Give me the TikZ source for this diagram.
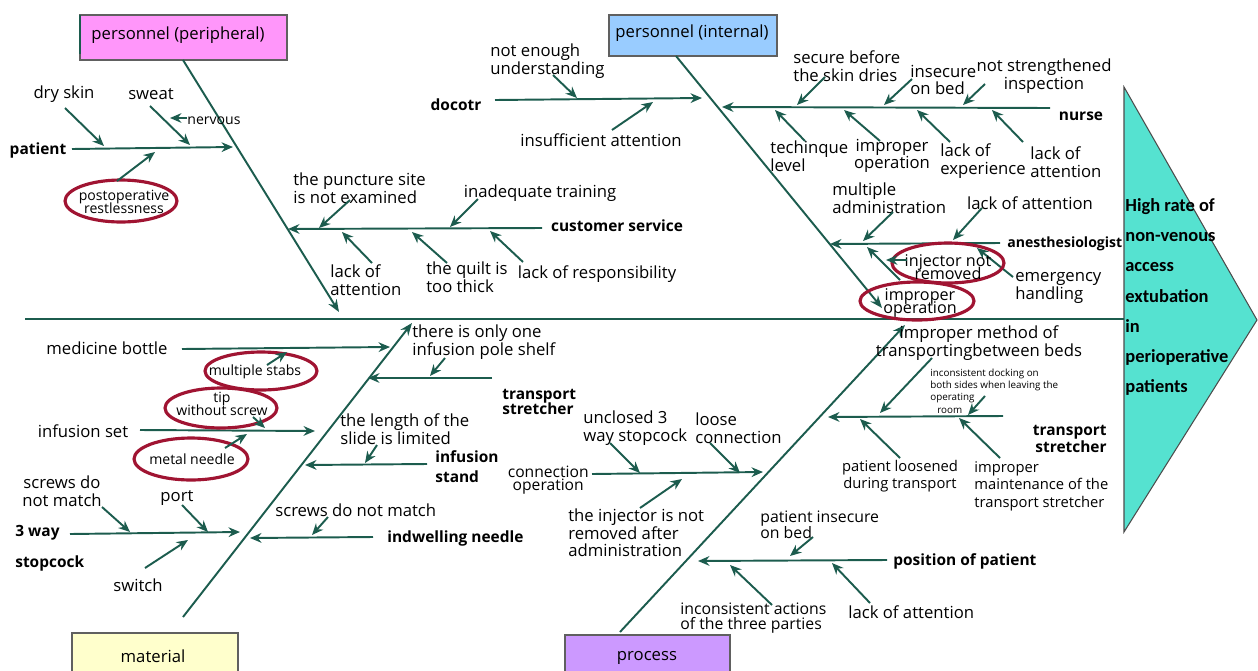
\documentclass[tikz,border=0pt]{standalone}
\usepackage{fontspec}
\setmainfont{Open Sans}
\newfontfamily\headfont{Carlito}
\usetikzlibrary{arrows.meta,calc}

\definecolor{bonegreen}{RGB}{28,92,78}
\definecolor{ringred}{RGB}{160,20,50}
\definecolor{headcyan}{RGB}{85,226,208}
\definecolor{pinkbox}{RGB}{255,150,250}
\definecolor{bluebox}{RGB}{153,204,255}
\definecolor{yellowbox}{RGB}{255,255,204}
\definecolor{violetbox}{RGB}{204,153,255}

% let lines of a label sit close when the leading is tight
\newcommand\squeeze{\lineskiplimit=-50pt\lineskip=0pt\relax}

\tikzset{
  bone/.style={draw=bonegreen,line width=1.1pt,-{Stealth[length=7pt,width=5.5pt]}},
  twig/.style={draw=bonegreen,line width=1.1pt,-{Stealth[length=6.5pt,width=5.5pt]}},
  spine/.style={draw=bonegreen,line width=1pt},
  lbl/.style={font=\fontsize{9.5}{10}\selectfont,inner sep=0pt,align=center},
  tight/.style={font=\fontsize{9.2}{7.8}\selectfont\squeeze,inner sep=0pt,align=center},
  sm/.style={font=\fontsize{8}{7.2}\selectfont\squeeze,inner sep=0pt,align=center},
  tiny/.style={font=\fontsize{5.6}{7}\selectfont,inner sep=0pt,align=left},
  hd/.style={font=\bfseries\fontsize{8.8}{10}\selectfont,inner sep=0pt,align=left},
  ring/.style={draw=ringred,line width=1.8pt},
  catbox/.style={draw=gray!75!black,line width=.8pt}
}

\begin{document}
\begin{tikzpicture}[x=0.02cm,y=-0.02cm]
\useasboundingbox (0,0) rectangle (1258,670);

% head of the fish
\filldraw[fill=headcyan,draw=gray!60!black,line width=.6pt] (1124,87) -- (1257,320) -- (1124,532) -- cycle;
\node[font=\headfont\bfseries\fontsize{10.5}{17.2}\selectfont,inner sep=0pt,align=left,anchor=west] (eff) at (1125,297)
  {High rate of\\non-venous\\access\\extubation\\in\\perioperative\\patients};

% spine
\coordinate (S0) at (25,319); \coordinate (S1) at (1124,319);
\draw[spine] (S0) -- (S1);

% category boxes
\filldraw[catbox,fill=pinkbox] (80,15) rectangle (287,60);
\draw[bonegreen,line width=1.2pt] (80,15) -- (80,54);
\node[lbl] (catPP) at (178,35) {personnel (peripheral)};
\filldraw[catbox,fill=bluebox] (609,15) rectangle (777,56);
\node[lbl] (catPI) at (692,33) {personnel (internal)};
\filldraw[catbox,fill=yellowbox] (72,633) rectangle (238,675);
\node[lbl] (catM) at (153,656) {material};
\filldraw[catbox,fill=violetbox] (565,635) rectangle (730,675);
\node[lbl] (catP) at (647,658) {process};

% main bones
\coordinate (B1s) at (183,60);  \coordinate (B1e) at (339,312);
\coordinate (B2s) at (676,56);  \coordinate (B2e) at (882,308);
\coordinate (B3s) at (183,617); \coordinate (B3e) at (412,323);
\coordinate (B4s) at (620,632); \coordinate (B4e) at (905,325);
\draw[bone] (B1s) -- (B1e);
\draw[bone] (B2s) -- (B2e);
\draw[bone] (B3s) -- (B3e);
\draw[bone] (B4s) -- (B4e);

% ---- personnel (peripheral): patient
\node[hd] (pat) at (38,150) {patient};
\coordinate (pat1) at (72,149); \coordinate (pat2) at (233,147);
\draw[twig] (pat1) -- (pat2);
\node[lbl] (dry) at (64,94) {dry skin};
\coordinate (dry1) at (65,108); \coordinate (dry2) at (104,146);
\draw[twig] (dry1) -- (dry2);
\node[lbl] (swt) at (151,94) {sweat};
\coordinate (swt1) at (150,106); \coordinate (swt2) at (190,145);
\draw[twig] (swt1) -- (swt2);
\node[sm] (nrv) at (214,121) {nervous};
\coordinate (nrv1) at (187,118); \coordinate (nrv2) at (170,118);
\draw[twig] (nrv1) -- (nrv2);
\draw[ring] (121,201) ellipse (1.12cm and 0.42cm);
\node[sm] (pst) at (124,202) {postoperative\\restlessness};
\coordinate (pst1) at (117,181); \coordinate (pst2) at (155,152);
\draw[twig] (pst1) -- (pst2);

% ---- personnel (peripheral): customer service
\node[hd] (cus) at (617,226) {customer service};
\coordinate (cus1) at (542,228); \coordinate (cus2) at (288,229);
\draw[twig] (cus1) -- (cus2);
\node[lbl,align=left,anchor=west] (pun) at (293,188) {the puncture site\\is not examined};
\coordinate (pun1) at (350,200); \coordinate (pun2) at (319,228);
\draw[twig] (pun1) -- (pun2);
\node[lbl] (trn) at (540,193) {inadequate training};
\coordinate (trn1) at (478,199); \coordinate (trn2) at (450,227);
\draw[twig] (trn1) -- (trn2);
\node[lbl,align=left,anchor=west] (lca) at (330,280) {lack of\\attention};
\coordinate (lca1) at (372,263); \coordinate (lca2) at (342,232);
\draw[twig] (lca1) -- (lca2);
\node[lbl,align=left,anchor=west] (qlt) at (426,277) {the quilt is\\too thick};
\coordinate (qlt1) at (447,263); \coordinate (qlt2) at (412,232);
\draw[twig] (qlt1) -- (qlt2);
\node[lbl] (rsp) at (597,274) {lack of responsibility};
\coordinate (rsp1) at (523,262); \coordinate (rsp2) at (490,231);
\draw[twig] (rsp1) -- (rsp2);

% ---- personnel (internal): doctor
\node[hd] (doc) at (456,105) {docotr};
\coordinate (doc1) at (495,100); \coordinate (doc2) at (702,98);
\draw[twig] (doc1) -- (doc2);
\node[lbl,align=left,anchor=west] (und) at (490,61) {not enough\\understanding};
\coordinate (und1) at (553,75); \coordinate (und2) at (577,98);
\draw[twig] (und1) -- (und2);
\node[lbl] (ins) at (601,140) {insufficient attention};
\coordinate (ins1) at (612,130); \coordinate (ins2) at (653,102);
\draw[twig] (ins1) -- (ins2);

% ---- personnel (internal): nurse
\node[hd] (nur) at (1081,116) {nurse};
\coordinate (nur1) at (1050,108); \coordinate (nur2) at (722,107);
\draw[twig] (nur1) -- (nur2);
\node[lbl,align=left,anchor=west] (sec) at (793,66) {secure before\\the skin dries};
\coordinate (sec1) at (825,77); \coordinate (sec2) at (797,105);
\draw[twig] (sec1) -- (sec2);
\node[lbl,align=left,anchor=west] (isb) at (910,80) {insecure\\on bed};
\coordinate (isb1) at (912,79); \coordinate (isb2) at (884,105);
\draw[twig] (isb1) -- (isb2);
\node[lbl] (nsi) at (1044,76) {not strengthened\\inspection};
\coordinate (nsi1) at (985,84); \coordinate (nsi2) at (963,105);
\draw[twig] (nsi1) -- (nsi2);
\node[lbl,align=left,anchor=west] (tec) at (770,156) {techinque\\level};
\coordinate (tec1) at (805,141); \coordinate (tec2) at (775,110);
\draw[twig] (tec1) -- (tec2);
\node[lbl] (iop) at (892,156) {improper\\operation};
\coordinate (iop1) at (880,141); \coordinate (iop2) at (844,110);
\draw[twig] (iop1) -- (iop2);
\node[lbl,align=left,anchor=west] (lex) at (940,161) {lack of\\experience};
\coordinate (lex1) at (950,142); \coordinate (lex2) at (917,110);
\draw[twig] (lex1) -- (lex2);
\node[lbl,align=left,anchor=west] (lat) at (1030,162) {lack of\\attention};
\coordinate (lat1) at (1023,142); \coordinate (lat2) at (992,110);
\draw[twig] (lat1) -- (lat2);

% ---- personnel (internal): anesthesiologist
\node[hd,font=\bfseries\fontsize{8}{10}\selectfont,anchor=west] (ane) at (1007,244) {anesthesiologist};
\coordinate (ane1) at (1000,243); \coordinate (ane2) at (830,244);
\draw[twig] (ane1) -- (ane2);
\node[lbl,align=left,anchor=west] (mad) at (832,198) {multiple\\administration};
\coordinate (mad1) at (893,212); \coordinate (mad2) at (863,241);
\draw[twig] (mad1) -- (mad2);
\node[lbl] (laa) at (1030,203) {lack of attention};
\coordinate (laa1) at (982,208); \coordinate (laa2) at (953,240);
\draw[twig] (laa1) -- (laa2);
\node[lbl,align=left,anchor=west] (emg) at (1015,288) {emergency\\handling};
\coordinate (emg1) at (1013,277); \coordinate (emg2) at (977,248);
\draw[twig] (emg1) -- (emg2);
\draw[ring] (948,263) ellipse (1.12cm and 0.4cm);
\node[tight] (inj) at (948,267) {injector not\\removed};
\coordinate (inj1) at (907,260); \coordinate (inj2) at (886,260);
\draw[twig] (inj1) -- (inj2);
\coordinate (inj3) at (900,280); \coordinate (inj4) at (867,247);
\draw[twig] (inj3) -- (inj4);
\draw[ring] (917,301) ellipse (1.14cm and 0.38cm);
\node[tight] (ipo) at (920,303) {improper\\operation};

% ---- material: medicine bottle
\node[lbl] (med) at (107,348) {medicine bottle};
\coordinate (med1) at (182,349); \coordinate (med2) at (390,347);
\draw[twig] (med1) -- (med2);
\draw[ring] (261,371) ellipse (1.12cm and 0.38cm);
\node[sm] (mst) at (255,372) {multiple stabs};
\coordinate (mst1) at (267,365); \coordinate (mst2) at (287,352);
\draw[twig] (mst1) -- (mst2);

% ---- material: infusion set
\node[lbl] (ifs) at (83,431) {infusion set};
\coordinate (ifs1) at (140,430); \coordinate (ifs2) at (315,431);
\draw[twig] (ifs1) -- (ifs2);
\draw[ring] (221,408) ellipse (1.12cm and 0.4cm);
\node[sm] (wsc) at (222,404) {tip\\without screw};
\coordinate (wsc1) at (253,417); \coordinate (wsc2) at (265,428);
\draw[twig] (wsc1) -- (wsc2);
\draw[ring] (191,459) ellipse (1.14cm and 0.42cm);
\node[sm] (mnd) at (192,459) {metal needle};
\coordinate (mnd1) at (225,448); \coordinate (mnd2) at (247,434);
\draw[twig] (mnd1) -- (mnd2);

% ---- material: 3 way stopcock
\node[hd,anchor=west] (twy) at (15,533) {3 way};
\node[hd,anchor=west] (stc) at (15,563) {stopcock};
\coordinate (twy1) at (70,534); \coordinate (twy2) at (240,532);
\draw[twig] (twy1) -- (twy2);
\node[lbl] (scr) at (62,491) {screws do\\not match};
\coordinate (scr1) at (102,507); \coordinate (scr2) at (130,532);
\draw[twig] (scr1) -- (scr2);
\node[lbl] (prt) at (177,498) {port};
\coordinate (prt1) at (182,505); \coordinate (prt2) at (208,532);
\draw[twig] (prt1) -- (prt2);
\node[lbl] (swi) at (138,585) {switch};
\coordinate (swi1) at (145,568); \coordinate (swi2) at (188,540);
\draw[twig] (swi1) -- (swi2);

% ---- material: transport stretcher
\node[hd,font=\bfseries\fontsize{8.8}{8.6}\selectfont\squeeze,anchor=west] (tsm) at (502,402) {transport\\stretcher};
\coordinate (tsm1) at (492,378); \coordinate (tsm2) at (368,378);
\draw[twig] (tsm1) -- (tsm2);
\node[lbl,align=left,anchor=west] (pol) at (412,342) {there is only one\\infusion pole shelf};
\coordinate (pol1) at (445,358); \coordinate (pol2) at (430,376);
\draw[twig] (pol1) -- (pol2);

% ---- material: infusion stand
\node[hd,font=\bfseries\fontsize{8.8}{11.3}\selectfont,anchor=west] (ist) at (435,467) {infusion\\stand};
\coordinate (ist1) at (427,464); \coordinate (ist2) at (305,465);
\draw[twig] (ist1) -- (ist2);
\node[lbl,align=left,anchor=west] (sld) at (340,429) {the length of the\\slide is limited};
\coordinate (sld1) at (377,445); \coordinate (sld2) at (365,463);
\draw[twig] (sld1) -- (sld2);

% ---- material: indwelling needle
\node[hd,anchor=west] (idn) at (387,538) {indwelling needle};
\coordinate (idn1) at (373,537); \coordinate (idn2) at (250,538);
\draw[twig] (idn1) -- (idn2);
\node[lbl,anchor=west] (snm) at (275,510) {screws do not match};
\coordinate (snm1) at (328,517); \coordinate (snm2) at (312,535);
\draw[twig] (snm1) -- (snm2);

% ---- process: connection operation
\node[tight,font=\fontsize{8.9}{7.4}\selectfont\squeeze,anchor=east] (con) at (589,480) {connection\\operation};
\coordinate (con1) at (592,474); \coordinate (con2) at (763,472);
\draw[twig] (con1) -- (con2);
\node[lbl,align=left,anchor=west] (ucl) at (583,428) {unclosed 3\\way stopcock};
\coordinate (ucl1) at (610,443); \coordinate (ucl2) at (640,473);
\draw[twig] (ucl1) -- (ucl2);
\node[lbl,align=left,anchor=west] (lsc) at (695,428) {loose\\connection};
\coordinate (lsc1) at (710,443); \coordinate (lsc2) at (740,473);
\draw[twig] (lsc1) -- (lsc2);
\node[lbl,align=left,anchor=west] (inr) at (568,533) {the injector is not\\removed after\\administration};
\coordinate (inr1) at (640,508); \coordinate (inr2) at (682,479);
\draw[twig] (inr1) -- (inr2);

% ---- process: transport stretcher
\node[hd,font=\bfseries\fontsize{8.8}{9.6}\selectfont,align=right,anchor=east] (tsp) at (1107,439) {transport\\stretcher};
\coordinate (tsp1) at (1003,416); \coordinate (tsp2) at (828,417);
\draw[twig] (tsp1) -- (tsp2);
\node[lbl] (imb) at (979,343) {improper method of\\transportingbetween beds};
\coordinate (imb1) at (932,358); \coordinate (imb2) at (880,413);
\draw[twig] (imb1) -- (imb2);
\node[tiny,anchor=west] (dck) at (930,391) {inconsistent docking on\\both sides when leaving the\\operating\\\hspace*{4pt}room};
\coordinate (dck1) at (985,396); \coordinate (dck2) at (968,415);
\draw[twig] (dck1) -- (dck2);
\node[lbl,font=\fontsize{8.4}{9.3}\selectfont] (plo) at (900,476) {patient loosened\\during transport};
\coordinate (plo1) at (900,458); \coordinate (plo2) at (860,419);
\draw[twig] (plo1) -- (plo2);
\node[lbl,font=\fontsize{8.4}{10}\selectfont,align=left,anchor=west] (mnt) at (974,486) {improper\\maintenance of the\\transport stretcher};
\coordinate (mnt1) at (1000,458); \coordinate (mnt2) at (959,418);
\draw[twig] (mnt1) -- (mnt2);

% ---- process: position of patient
\node[hd,anchor=west] (pos) at (893,561) {position of patient};
\coordinate (pos1) at (887,560); \coordinate (pos2) at (698,561);
\draw[twig] (pos1) -- (pos2);
\node[lbl,font=\fontsize{9}{9}\selectfont,align=left,anchor=west] (pib) at (760,525) {patient insecure\\on bed};
\coordinate (pib1) at (813,537); \coordinate (pib2) at (790,556);
\draw[twig] (pib1) -- (pib2);
\node[lbl,font=\fontsize{9}{8.6}\selectfont,align=left,anchor=west] (tpa) at (680,618) {inconsistent actions\\of the three parties};
\coordinate (tpa1) at (772,605); \coordinate (tpa2) at (730,565);
\draw[twig] (tpa1) -- (tpa2);
\node[lbl,anchor=west] (lop) at (848,612) {lack of attention};
\coordinate (lop1) at (870,603); \coordinate (lop2) at (832,563);
\draw[twig] (lop1) -- (lop2);
\end{tikzpicture}
\end{document}
